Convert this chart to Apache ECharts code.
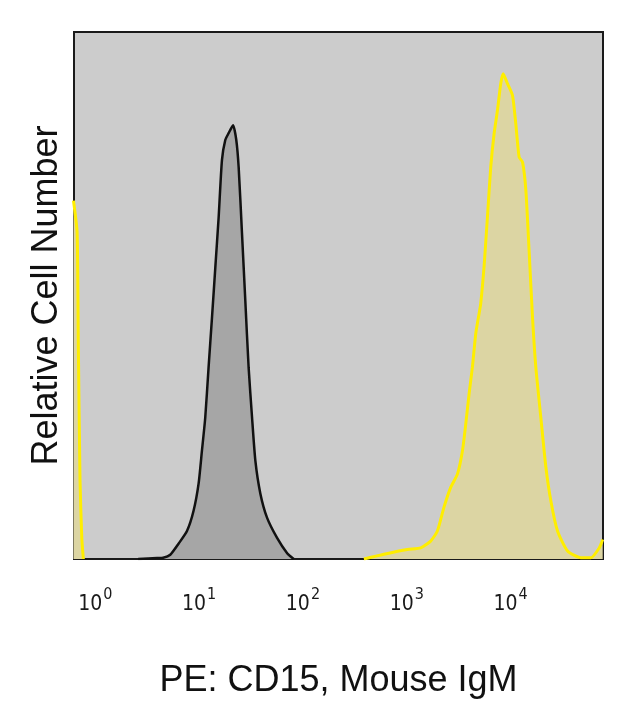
<!DOCTYPE html>
<html>
<head>
<meta charset="utf-8">
<script src="https://cdn.jsdelivr.net/npm/echarts@6/dist/echarts.min.js"></script>
<style>
html, body { margin: 0; padding: 0; background: #fff; }
#main { width: 640px; height: 706px; }
</style>
</head>
<body>
<div id="main"></div>
<script>
// x values are log10 of fluorescence (decades), y is relative cell count (0-100)
var decades = [0, 1, 2, 3, 4];

// isotype control (dark gray)
var isoX = [0.413, 0.596, 0.654, 0.722, 0.802, 0.883, 0.946, 0.995, 1.027, 1.059, 1.091, 1.124, 1.156, 1.188, 1.220, 1.252, 1.284, 1.327,
            1.358, 1.381, 1.413, 1.445, 1.477, 1.510, 1.542, 1.590, 1.655, 1.751, 1.848, 1.911];
var isoY = [0, 0.2, 0.25, 0.8, 2.9, 5.3, 9.1, 14.3, 20.5, 26.8, 36.3, 45.8, 55.3, 64.8, 75.7, 79.5, 80.8, 82.3,
            79.5, 74.3, 61.8, 49.0, 36.3, 26.8, 18.6, 12.4, 7.8, 4.0, 1.1, 0];

// CD15 stained (yellow): pile-up at the left edge, then the main peak
var cd15EdgeX = [-0.21, -0.175, -0.163, -0.147, -0.13, -0.115];
var cd15EdgeY = [68, 62, 40, 15, 4, 0];
var cd15X = [2.587, 2.780, 3.005, 3.134, 3.230, 3.295, 3.358, 3.423, 3.488, 3.536, 3.568, 3.600, 3.632, 3.664, 3.696, 3.712,
             3.744, 3.777, 3.809, 3.841, 3.874, 3.905, 3.928, 3.970, 4.018, 4.050, 4.082, 4.115, 4.147, 4.178, 4.211,
             4.243, 4.291, 4.340, 4.388, 4.452, 4.549, 4.677, 4.774, 4.854, 4.887];
var cd15Y = [0, 0.9, 1.8, 2.1, 3.4, 5.3, 9.8, 13.6, 16.1, 20.5, 25.6, 31.3, 36.4, 42.7, 46.5, 48.4,
             55.4, 64.9, 74.4, 80.7, 85.2, 90.2, 92.1, 90.2, 88.0, 82.6, 76.3, 75.3, 70.0, 58.6, 45.9,
             36.4, 26.9, 17.4, 11.0, 5.3, 1.5, 0.25, 0.25, 2.1, 3.7];

function pairs(xs, ys) {
  var out = [];
  for (var i = 0; i < xs.length; i++) out.push([xs[i], ys[i]]);
  return out;
}

var isoData = pairs(isoX, isoY);
var cd15Data = pairs(cd15EdgeX, cd15EdgeY).concat([null]).concat(pairs(cd15X, cd15Y));

var myChart = echarts.init(document.getElementById('main'));
var option = {
  animation: false,
  grid: {
    left: 74, right: 37, top: 32, bottom: 147,
    show: true,
    backgroundColor: '#cccccc',
    borderColor: '#1a1a1a',
    borderWidth: 2
  },
  xAxis: {
    type: 'value',
    min: -0.205,
    max: 4.89,
    name: 'PE: CD15, Mouse IgM',
    nameLocation: 'middle',
    nameGap: 104,
    nameTextStyle: { fontSize: 36, fontFamily: 'Liberation Sans, Arial, sans-serif', color: '#111' },
    axisLine: { show: false },
    axisTick: { show: false },
    splitLine: { show: false },
    axisLabel: {
      customValues: decades,
      margin: 28,
      formatter: function (v) { return '{b|10}{s|' + v + '}'; },
      rich: {
        b: { fontSize: 21, fontFamily: "'Liberation Sans Narrow', 'DejaVu Sans Condensed', 'Liberation Sans', sans-serif", color: '#1a1a1a', verticalAlign: 'bottom' },
        s: { fontSize: 16, fontFamily: "'Liberation Sans Narrow', 'DejaVu Sans Condensed', 'Liberation Sans', sans-serif", color: '#1a1a1a', verticalAlign: 'bottom', padding: [0, 0, 12, 1] }
      }
    }
  },
  yAxis: {
    type: 'value',
    min: 0,
    max: 100,
    name: 'Relative Cell Number',
    nameLocation: 'middle',
    nameGap: 9,
    nameTextStyle: { fontSize: 36, fontFamily: 'Liberation Sans, Arial, sans-serif', color: '#111' },
    axisLine: { show: false },
    axisTick: { show: false },
    axisLabel: { show: false },
    splitLine: { show: false }
  },
  series: [
    {
      name: 'Isotype',
      type: 'line',
      data: isoData,
      showSymbol: false,
      smooth: 0.2,
      lineStyle: { color: '#111111', width: 2.5 },
      areaStyle: { color: '#a6a6a6', opacity: 1 }
    },
    {
      name: 'CD15',
      type: 'line',
      data: cd15Data,
      showSymbol: false,
      smooth: 0.2,
      connectNulls: false,
      lineStyle: { color: '#ffee00', width: 3 },
      areaStyle: { color: '#dcd5a3', opacity: 1 }
    }
  ]
};
myChart.setOption(option);
</script>
</body>
</html>
